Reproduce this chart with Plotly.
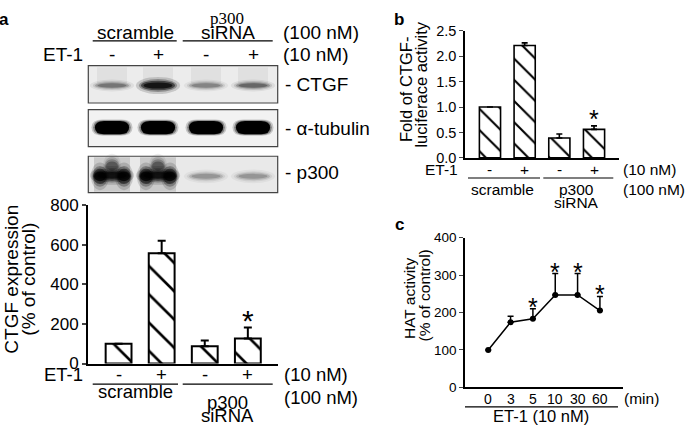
import plotly.graph_objects as go

W, H = 685, 435
FONT = "Liberation Sans, Arial, sans-serif"


def X(px):
    return px / W


def Y(py):
    return 1 - py / H


# ---------------- data ----------------
a_labels = ["-", "+", "-", "+"]
a_vals = [100, 557, 87, 126]
a_err = [0, 63, 29, 56]
a_star = [False, False, False, True]

b_labels = ["-", "+", "-", "+"]
b_vals = [1.0, 2.21, 0.39, 0.56]
b_err = [0, 0.05, 0.08, 0.07]
b_star = [False, False, False, True]

c_times = ["0", "3", "5", "10", "30", "60"]
c_vals = [100, 174, 183, 247, 247, 205]
c_err = [0, 16, 27, 57, 57, 38]
c_star = [False, False, True, True, True, True]

# western blot band intensities (relative darkness)
blot_ctgf = [0.38, 1.0, 0.32, 0.45]
blot_tub = [1.0, 1.0, 1.0, 1.0]
blot_p300 = [1.0, 1.0, 0.25, 0.25]

fig = go.Figure()

hatch_a = dict(shape="\\", size=20, solidity=0.13, fgcolor="#000000", bgcolor="#ffffff",
               fgopacity=1, fillmode="replace")
hatch_b = dict(shape="\\", size=15, solidity=0.14, fgcolor="#000000", bgcolor="#ffffff",
               fgopacity=1, fillmode="replace")

ann = []

# ---- panel a bars ----
xa = list(range(len(a_vals)))
fig.add_trace(go.Bar(
    x=xa, y=a_vals, width=0.6, xaxis="x", yaxis="y",
    marker=dict(color="white", line=dict(color="black", width=2), pattern=hatch_a),
    error_y=dict(type="data", array=a_err, arrayminus=[0] * len(a_err), symmetric=False,
                 color="black", thickness=2, width=4),
    showlegend=False, hoverinfo="skip"))

# ---- panel b bars ----
xb = list(range(len(b_vals)))
fig.add_trace(go.Bar(
    x=xb, y=b_vals, width=0.61, xaxis="x2", yaxis="y2",
    marker=dict(color="white", line=dict(color="black", width=1.6), pattern=hatch_b),
    error_y=dict(type="data", array=b_err, arrayminus=[0] * len(b_err), symmetric=False,
                 color="black", thickness=1.6, width=3),
    showlegend=False, hoverinfo="skip"))

# ---- panel c line ----
xc = list(range(len(c_vals)))
fig.add_trace(go.Scatter(
    x=xc, y=c_vals, mode="lines+markers", xaxis="x3", yaxis="y3",
    line=dict(color="black", width=1.5), marker=dict(color="black", size=6),
    error_y=dict(type="data", array=c_err, arrayminus=[0] * len(c_err), symmetric=False,
                 color="black", thickness=1.5, width=3),
    showlegend=False, hoverinfo="skip", cliponaxis=False))


def stars(xs, vals, errs, flags, xr, yr, size, shift):
    for x, v, e, s in zip(xs, vals, errs, flags):
        if s:
            ann.append(dict(text="*", x=x, y=v + e, xref=xr, yref=yr, showarrow=False,
                            xanchor="center", yanchor="bottom", yshift=shift,
                            font=dict(size=size, family=FONT, color="black")))


def cat_labels(xs, labels, xr, ypx, size):
    # category labels under an axis, placed through the axis' own x scale
    for x, t in zip(xs, labels):
        ann.append(dict(text=t, x=x, y=Y(ypx), xref=xr, yref="paper", showarrow=False,
                        xanchor="center", yanchor="middle",
                        font=dict(size=size, family=FONT, color="black")))


stars(xa, a_vals, a_err, a_star, "x", "y", 30, -12)
stars(xb, b_vals, b_err, b_star, "x2", "y2", 25, -9)
stars(xc, c_vals, c_err, c_star, "x3", "y3", 25, -14)

cat_labels(xa, a_labels, "x", 381.7, 18.5)
cat_labels(xb, b_labels, "x2", 168, 15.5)
cat_labels(xc, c_times, "x3", 407.7, 14)

axis_common = dict(showgrid=False, zeroline=False, showline=True, linecolor="black",
                   fixedrange=True)

fig.update_layout(
    width=W, height=H, autosize=False,
    margin=dict(l=0, r=0, t=0, b=0),
    paper_bgcolor="white", plot_bgcolor="white",
    font=dict(family=FONT, color="black"),
    xaxis=dict(domain=[X(88), X(278)], range=[-0.71, 3.70], showticklabels=False,
               ticks="", linewidth=2, anchor="y", **axis_common),
    yaxis=dict(domain=[Y(370.7), Y(205)], range=[0, 800], tickvals=[0, 200, 400, 600, 800],
               ticks="outside", ticklen=4, tickwidth=1.6, tickfont=dict(size=17),
               linewidth=2, anchor="x", **axis_common),
    xaxis2=dict(domain=[X(465), X(619)], range=[-0.72, 3.72], showticklabels=False,
                ticks="", linewidth=1.6, anchor="y2", **axis_common),
    yaxis2=dict(domain=[Y(155.7), Y(22.7)], range=[0, 2.5],
                tickvals=[0, 0.5, 1.0, 1.5, 2.0, 2.5], tickformat=".1f",
                ticks="outside", ticklen=4, tickwidth=1.4, tickfont=dict(size=14.5),
                linewidth=1.6, anchor="x2", **axis_common),
    xaxis3=dict(domain=[X(465), X(622.7)], range=[-1.04, 6.02], showticklabels=False,
                ticks="", linewidth=1.5, anchor="y3", **axis_common),
    yaxis3=dict(domain=[Y(395.7), Y(239)], range=[0, 400], tickvals=[0, 100, 200, 300, 400],
                ticks="outside", ticklen=4, tickwidth=1.4, tickfont=dict(size=13.5),
                linewidth=1.5, anchor="x3", **axis_common),
)


def text(t, x, y, size, xanchor="center", yanchor="middle", family=FONT, angle=0, bold=False):
    if bold:
        t = "<b>" + t + "</b>"
    ann.append(dict(text=t, x=X(x), y=Y(y), xref="paper", yref="paper", showarrow=False,
                    xanchor=xanchor, yanchor=yanchor, textangle=angle,
                    font=dict(size=size, family=family, color="black")))


shapes = []


def hline(x0, x1, y, w=1.2):
    shapes.append(dict(type="line", xref="paper", yref="paper", x0=X(x0), x1=X(x1),
                       y0=Y(y), y1=Y(y), line=dict(color="black", width=w)))


# panel labels
text("a", 4, 11, 17, bold=True)
text("b", 399, 11, 17, bold=True)
text("c", 399, 225, 17, bold=True)

# ---- panel a header ----
text("scramble", 135, 25, 19)
text("p300", 227, 10, 17, family="Liberation Serif, Times New Roman, serif")
text("siRNA", 228, 25, 19)
text("(100 nM)", 281, 25, 19, xanchor="left")
hline(92.7, 176.7, 33.3)
hline(182.7, 272.7, 33.3)
text("ET-1", 85, 48, 19, xanchor="right")
blot_lanes = [112, 158, 206, 253]
for cx, s in zip(blot_lanes, a_labels):
    text(s, cx, 48, 19)
text("(10 nM)", 281, 48, 19, xanchor="left")
text("- CTGF", 283, 79, 19, xanchor="left")
text("- α-tubulin", 283, 125, 19, xanchor="left")
text("- p300", 283, 171, 19, xanchor="left")

# ---- blot boxes and bands ----
boxes = [(59.3, 98.3), (105.3, 144.0), (154.0, 192.0)]
for (y0, y1), bg in zip(boxes, ["#ececec", "#f2f2f2", "#e9e9e9"]):
    shapes.append(dict(type="rect", xref="paper", yref="paper", x0=X(88.3), x1=X(277.7),
                       y0=Y(y1), y1=Y(y0), fillcolor=bg, line=dict(width=0), layer="below"))


def band(cx, cy, w, h, d):
    # layered soft ellipses to imitate a blot band
    layers = [(1.3, 1.8, 0.15), (1.12, 1.35, 0.28), (1.0, 1.0, 0.5), (0.85, 0.65, 0.7)]
    for sw, sh, op in layers:
        ww, hh = w * sw, h * sh
        shapes.append(dict(type="circle", xref="paper", yref="paper",
                           x0=X(cx - ww / 2), x1=X(cx + ww / 2),
                           y0=Y(cy + hh / 2), y1=Y(cy - hh / 2),
                           fillcolor="black", opacity=min(1, op * d), line=dict(width=0)))


def capsule(cx, cy, w, h, d):
    r = h / 2
    for grow, op in [(3, 0.18), (1.5, 0.35), (0, 1.0)]:
        x0, x1 = cx - w / 2 - grow, cx + w / 2 + grow
        y0, y1 = cy - r - grow / 2, cy + r + grow / 2
        rr = (y1 - y0) / 2
        path = (f"M {X(x0 + rr)},{Y(y0)} L {X(x1 - rr)},{Y(y0)} "
                f"Q {X(x1 + rr * 0.3)},{Y(y0)} {X(x1 + rr * 0.3)},{Y(cy)} "
                f"Q {X(x1 + rr * 0.3)},{Y(y1)} {X(x1 - rr)},{Y(y1)} "
                f"L {X(x0 + rr)},{Y(y1)} "
                f"Q {X(x0 - rr * 0.3)},{Y(y1)} {X(x0 - rr * 0.3)},{Y(cy)} "
                f"Q {X(x0 - rr * 0.3)},{Y(y0)} {X(x0 + rr)},{Y(y0)} Z")
        shapes.append(dict(type="path", xref="paper", yref="paper", path=path,
                           fillcolor="black", opacity=op * d, line=dict(width=0)))


# CTGF: faint vertical smear above bands
for cx in blot_lanes:
    shapes.append(dict(type="rect", xref="paper", yref="paper", x0=X(cx - 15), x1=X(cx + 15),
                       y0=Y(78), y1=Y(61), fillcolor="black", opacity=0.05, line=dict(width=0)))
for cx, d in zip(blot_lanes, blot_ctgf):
    band(cx, 80, 34, 10 if d > 0.6 else 7, d)

for cx, d in zip(blot_lanes, blot_tub):
    capsule(cx, 124, 30, 14, d)

# p300: gray smear over the two left lanes
for cx in blot_lanes[:2]:
    shapes.append(dict(type="rect", xref="paper", yref="paper", x0=X(cx - 18), x1=X(cx + 18),
                       y0=Y(191), y1=Y(155), fillcolor="black", opacity=0.13,
                       line=dict(width=0)))
for cx, d in zip(blot_lanes, blot_p300):
    if d > 0.6:
        band(cx, 164, 14, 14, 0.45 * d)
        band(cx - 12, 175, 14, 16, d)
        band(cx + 12, 175, 14, 16, d)
        band(cx, 174, 34, 11, d)
    else:
        band(cx, 175, 34, 8, d)

for (y0, y1) in boxes:
    shapes.append(dict(type="rect", xref="paper", yref="paper", x0=X(88.3), x1=X(277.7),
                       y0=Y(y1), y1=Y(y0), line=dict(color="#444444", width=1.2)))

# ---- panel a bottom ----
text("CTGF expression", 12, 283, 19, angle=-90)
text("(% of control)", 29, 283, 19, angle=-90)
text("ET-1", 85, 382, 18.5, xanchor="right")
text("(10 nM)", 282, 382, 18.5, xanchor="left")
hline(92.7, 178, 392.3)
hline(182.7, 272.7, 392.3)
text("scramble", 135, 399.5, 18.5)
text("p300", 227.5, 411, 18.5)
text("siRNA", 227.5, 425, 18.5)
text("(100 nM)", 282, 406.7, 18.5, xanchor="left")

# ---- panel b ----
text("Fold of CTGF-", 406.7, 84, 16.5, angle=-90)
text("luciferace activity", 421, 79, 16.5, angle=-90)
text("ET-1", 460, 168, 15.5, xanchor="right")
text("(10 nM)", 621, 168, 15.5, xanchor="left")
hline(468, 540, 176.7)
hline(543.3, 613.3, 176.7)
text("scramble", 502.7, 188.3, 15.5)
text("p300", 576.7, 189, 15.5)
text("siRNA", 576.7, 202, 15.5)
text("(100 nM)", 620.5, 188.3, 15.5, xanchor="left")

# ---- panel c ----
text("HAT activity", 409.3, 303, 15.5, angle=-90)
text("(% of control)", 424.5, 300, 15.5, angle=-90)
text("(min)", 621.7, 407.7, 15.5, xanchor="left")
hline(465, 618, 416)
text("ET-1 (10 nM)", 540.5, 425.5, 16.5)

fig.update_layout(annotations=ann, shapes=shapes)
fig.write_html("out.html", config={"displayModeBar": False},
               post_script="document.body.style.margin='0';document.body.style.overflow='hidden';")
